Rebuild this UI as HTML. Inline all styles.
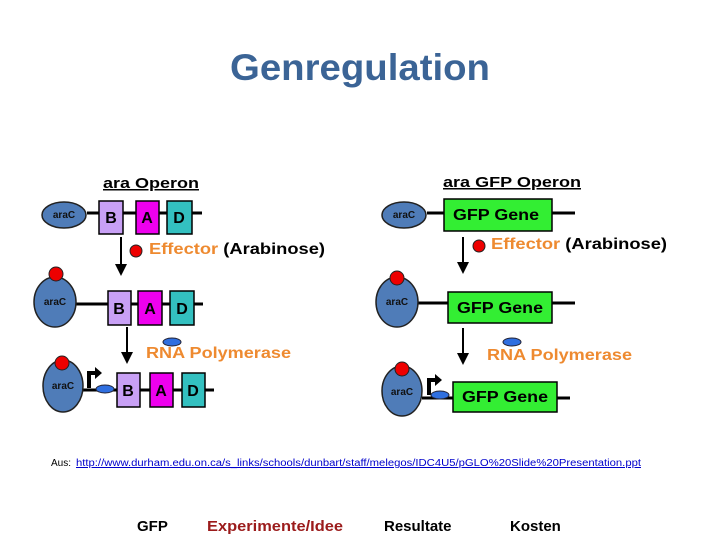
<!DOCTYPE html>
<html><head><meta charset="utf-8"><style>
html,body{margin:0;padding:0;background:#fff}
svg{display:block}
</style></head><body>
<svg width="720" height="540" viewBox="0 0 720 540" xmlns="http://www.w3.org/2000/svg" font-family="Liberation Sans, sans-serif">
<defs>
<marker id="ah" markerWidth="6" markerHeight="6" refX="3" refY="3" orient="auto"><path d="M0,0 L6,3 L0,6 z" fill="#000"/></marker>
</defs>
<text x="230" y="80" font-size="37" font-weight="bold" fill="#3b6496" textLength="260" lengthAdjust="spacingAndGlyphs">Genregulation</text>

<g font-weight="bold">
<!-- LEFT -->
<text x="103" y="188" font-size="15" text-decoration="underline" textLength="96" lengthAdjust="spacingAndGlyphs">ara Operon</text>
<line x1="87" y1="213" x2="202" y2="213" stroke="#000" stroke-width="3"/>
<ellipse cx="64" cy="215" rx="22" ry="13" fill="#4f7cb8" stroke="#222" stroke-width="1.5"/>
<text x="64" y="218" text-anchor="middle" font-size="10" fill="#111">araC</text>
<rect x="99" y="201" width="24" height="33" fill="#c8a0f5" stroke="#000" stroke-width="1.5"/>
<rect x="136" y="201" width="23" height="33" fill="#ee00ee" stroke="#000" stroke-width="1.5"/>
<rect x="167" y="201" width="25" height="33" fill="#33c0c0" stroke="#000" stroke-width="1.5"/>
<text x="111" y="223" text-anchor="middle" font-size="16">B</text>
<text x="147" y="223" text-anchor="middle" font-size="16">A</text>
<text x="179" y="223" text-anchor="middle" font-size="16">D</text>
<line x1="121" y1="237" x2="121" y2="270" stroke="#000" stroke-width="2" marker-end="url(#ah)"/>
<circle cx="136" cy="251" r="6" fill="#e00" stroke="#222"/>
<text x="149" y="254" font-size="16" textLength="176" lengthAdjust="spacingAndGlyphs"><tspan fill="#ee8a30">Effector</tspan> (Arabinose)</text>

<line x1="75" y1="304" x2="203" y2="304" stroke="#000" stroke-width="3"/>
<ellipse cx="55" cy="302" rx="21" ry="25" fill="#4f7cb8" stroke="#222" stroke-width="1.5"/>
<circle cx="56" cy="274" r="7" fill="#e00" stroke="#222"/>
<text x="55" y="305" text-anchor="middle" font-size="10" fill="#111">araC</text>
<rect x="108" y="291" width="23" height="34" fill="#c8a0f5" stroke="#000" stroke-width="1.5"/>
<rect x="138" y="291" width="24" height="34" fill="#ee00ee" stroke="#000" stroke-width="1.5"/>
<rect x="170" y="291" width="24" height="34" fill="#33c0c0" stroke="#000" stroke-width="1.5"/>
<text x="119" y="314" text-anchor="middle" font-size="16">B</text>
<text x="150" y="314" text-anchor="middle" font-size="16">A</text>
<text x="182" y="314" text-anchor="middle" font-size="16">D</text>
<line x1="127" y1="327" x2="127" y2="358" stroke="#000" stroke-width="2" marker-end="url(#ah)"/>
<ellipse cx="172" cy="342" rx="9" ry="4" fill="#2f6fe0" stroke="#223"/>
<text x="146" y="358" font-size="16" fill="#ee8a30" textLength="145" lengthAdjust="spacingAndGlyphs">RNA Polymerase</text>

<line x1="83" y1="390" x2="214" y2="390" stroke="#000" stroke-width="3"/>
<ellipse cx="63" cy="386" rx="20" ry="26" fill="#4f7cb8" stroke="#222" stroke-width="1.5"/>
<circle cx="62" cy="363" r="7" fill="#e00" stroke="#222"/>
<text x="63" y="389" text-anchor="middle" font-size="10" fill="#111">araC</text>
<path d="M89 388 V373 H96" stroke="#000" stroke-width="4" fill="none"/>
<path d="M95 367 L102 373 L95 379 z" fill="#000"/>
<ellipse cx="105" cy="389" rx="9" ry="4" fill="#2f6fe0" stroke="#223"/>
<rect x="117" y="373" width="23" height="34" fill="#c8a0f5" stroke="#000" stroke-width="1.5"/>
<rect x="150" y="373" width="23" height="34" fill="#ee00ee" stroke="#000" stroke-width="1.5"/>
<rect x="182" y="373" width="23" height="34" fill="#33c0c0" stroke="#000" stroke-width="1.5"/>
<text x="128" y="396" text-anchor="middle" font-size="16">B</text>
<text x="161" y="396" text-anchor="middle" font-size="16">A</text>
<text x="193" y="396" text-anchor="middle" font-size="16">D</text>

<!-- RIGHT -->
<text x="443" y="187" font-size="15" text-decoration="underline" textLength="138" lengthAdjust="spacingAndGlyphs">ara GFP Operon</text>
<line x1="427" y1="213" x2="575" y2="213" stroke="#000" stroke-width="3"/>
<ellipse cx="404" cy="215" rx="22" ry="13" fill="#4f7cb8" stroke="#222" stroke-width="1.5"/>
<text x="404" y="218" text-anchor="middle" font-size="10" fill="#111">araC</text>
<rect x="444" y="199" width="108" height="32" fill="#33ee33" stroke="#000" stroke-width="1.5"/>
<text x="453" y="220" font-size="16" textLength="86" lengthAdjust="spacingAndGlyphs">GFP Gene</text>
<line x1="463" y1="237" x2="463" y2="268" stroke="#000" stroke-width="2" marker-end="url(#ah)"/>
<circle cx="479" cy="246" r="6" fill="#e00" stroke="#222"/>
<text x="491" y="249" font-size="16" textLength="176" lengthAdjust="spacingAndGlyphs"><tspan fill="#ee8a30">Effector</tspan> (Arabinose)</text>

<line x1="418" y1="303" x2="575" y2="303" stroke="#000" stroke-width="3"/>
<ellipse cx="397" cy="302" rx="21" ry="25" fill="#4f7cb8" stroke="#222" stroke-width="1.5"/>
<circle cx="397" cy="278" r="7" fill="#e00" stroke="#222"/>
<text x="397" y="305" text-anchor="middle" font-size="10" fill="#111">araC</text>
<rect x="448" y="292" width="104" height="31" fill="#33ee33" stroke="#000" stroke-width="1.5"/>
<text x="457" y="313" font-size="16" textLength="86" lengthAdjust="spacingAndGlyphs">GFP Gene</text>
<line x1="463" y1="328" x2="463" y2="359" stroke="#000" stroke-width="2" marker-end="url(#ah)"/>
<ellipse cx="512" cy="342" rx="9" ry="4" fill="#2f6fe0" stroke="#223"/>
<text x="487" y="360" font-size="16" fill="#ee8a30" textLength="145" lengthAdjust="spacingAndGlyphs">RNA Polymerase</text>

<line x1="422" y1="398" x2="570" y2="398" stroke="#000" stroke-width="3"/>
<ellipse cx="402" cy="391" rx="20" ry="25" fill="#4f7cb8" stroke="#222" stroke-width="1.5"/>
<circle cx="402" cy="369" r="7" fill="#e00" stroke="#222"/>
<text x="402" y="395" text-anchor="middle" font-size="10" fill="#111">araC</text>
<path d="M429 395 V380 H436" stroke="#000" stroke-width="4" fill="none"/>
<path d="M435 374 L442 380 L435 386 z" fill="#000"/>
<ellipse cx="440" cy="395" rx="9" ry="4" fill="#2f6fe0" stroke="#223"/>
<rect x="453" y="382" width="104" height="30" fill="#33ee33" stroke="#000" stroke-width="1.5"/>
<text x="462" y="402" font-size="16" textLength="86" lengthAdjust="spacingAndGlyphs">GFP Gene</text>
</g>

<text x="51" y="466" font-size="10" fill="#000">Aus: </text>
<text x="76" y="466" font-size="10" fill="#0000cc" text-decoration="underline" textLength="565" lengthAdjust="spacingAndGlyphs">http://www.durham.edu.on.ca/s_links/schools/dunbart/staff/melegos/IDC4U5/pGLO%20Slide%20Presentation.ppt</text>

<g font-size="15" font-weight="bold">
<text x="137" y="531">GFP</text>
<text x="207" y="531" fill="#9b1b1b" textLength="136" lengthAdjust="spacingAndGlyphs">Experimente/Idee</text>
<text x="384" y="531">Resultate</text>
<text x="510" y="531">Kosten</text>
</g>
</svg>
</body></html>
